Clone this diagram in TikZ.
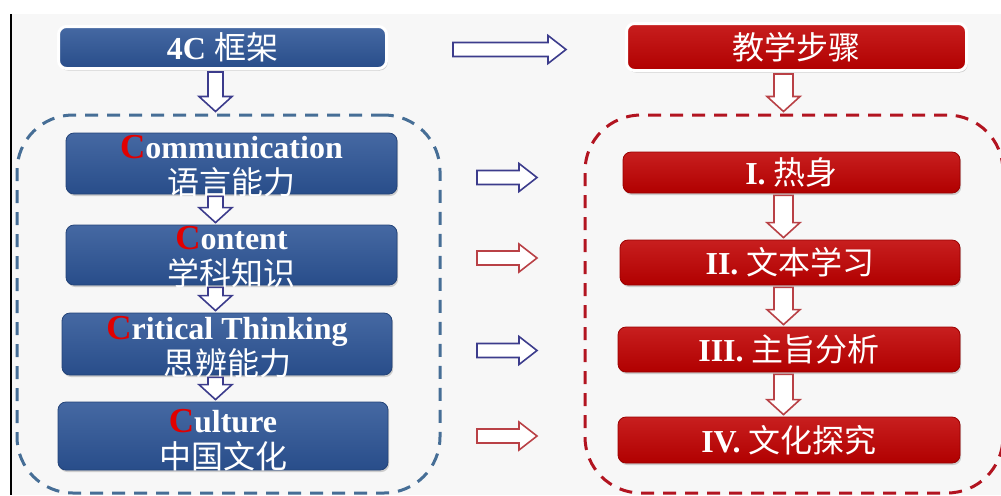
\documentclass[tikz,border=0pt]{standalone}
\usepackage{fontspec}
\setmainfont{Liberation Serif}
\newfontfamily\cjk{Noto Sans CJK SC}
\usetikzlibrary{calc,shadows}

\definecolor{boxblue}{RGB}{44,84,150}
\definecolor{boxred}{RGB}{192,0,0}
\definecolor{dashblue}{RGB}{70,110,150}
\definecolor{dashred}{RGB}{178,20,32}
\definecolor{arrblue}{RGB}{60,60,140}
\definecolor{arrred}{RGB}{185,65,70}
\definecolor{bggray}{RGB}{247,247,247}
\definecolor{letterred}{RGB}{225,0,0}

\tikzset{
  box/.style={rectangle, rounded corners=4pt, inner sep=0pt, align=center, text=white,
    font=\fontsize{16}{18}\selectfont,
    drop shadow={shadow xshift=0.6pt, shadow yshift=-1pt, opacity=0.35}},
  bluebox/.style={box, top color=boxblue!88!white, bottom color=boxblue!92!black, draw=boxblue!80!black},
  redbox/.style={box, top color=boxred!88!white, bottom color=boxred!92!black, draw=boxred!80!black},
  twoline/.style 2 args={text height=#1, text depth=#2},
  topbox/.style={draw=white, line width=1.5pt},
  group/.style={rectangle, rounded corners=28pt, line width=1.5pt, dash pattern=on 6.5pt off 4.5pt},
  harrow/.style={fill=white, line width=0.8pt, to path={
    ($(\tikztostart)+(0,-7)$) -- ($(\tikztotarget)+(-18,-7)$) -- ($(\tikztotarget)+(-18,-14)$)
    -- (\tikztotarget) -- ($(\tikztotarget)+(-18,14)$) -- ($(\tikztotarget)+(-18,7)$)
    -- ($(\tikztostart)+(0,7)$) -- cycle}},
  varrow/.style={fill=white, line width=0.8pt, to path={
    ($(\tikztostart)+(-#1,2)$) -- ($(\tikztotarget)+(-#1,-17)$) -- ($(\tikztotarget)+(-16.5,-17)$)
    -- ($(\tikztotarget)+(0,-2)$) -- ($(\tikztotarget)+(16.5,-17)$) -- ($(\tikztotarget)+(#1,-17)$)
    -- ($(\tikztostart)+(#1,2)$) -- cycle}}
}
\newcommand{\bigC}{{\fontsize{17.5}{18}\selectfont\textcolor{letterred}{C}}}

\begin{document}
\begin{tikzpicture}[x=0.5pt, y=-0.5pt]
        \useasboundingbox (0,0) rectangle (1001,495);
        % Background
        \fill[white] (0,0) rectangle (1001,495);
        \fill[bggray] (12,14) rectangle (1001,495);
        \draw[black, line width=0.75pt] (11,14) -- (11,495);

        % Groups
        \node (leftgroup) [group, draw=dashblue, minimum width=211.5pt, minimum height=189pt] at (228.5,304) {};
        \node (rightgroup) [group, draw=dashred, minimum width=209pt, minimum height=189pt] at (794,304) {};

        % Nodes
        \node (fw) [bluebox, topbox, minimum width=164pt, minimum height=21pt] at (222.5,47.5) {{\bfseries 4C} {\cjk 框架}};
        \node (steps) [redbox, topbox, minimum width=170pt, minimum height=23.5pt] at (796.5,47) {{\cjk 教学步骤}};

        \node (comm) [bluebox, twoline={30.5pt}{0pt}, minimum width=165.5pt] at (231.5,163.5)
          {{\bfseries\bigC ommunication}\\{\cjk 语言能力}};
        \node (cont) [bluebox, twoline={30pt}{0pt}, minimum width=165.5pt] at (231.5,255)
          {{\bfseries\bigC ontent}\\{\cjk 学科知识}};
        \node (crit) [bluebox, twoline={31pt}{0pt}, minimum width=165pt] at (227,344)
          {{\bfseries\bigC ritical Thinking}\\{\cjk 思辨能力}};
        \node (cult) [bluebox, twoline={33pt}{1pt}, minimum width=165pt] at (223,436)
          {{\bfseries\bigC ulture}\\{\cjk 中国文化}};

        \node (s1) [redbox, minimum width=168.5pt, minimum height=20.5pt] at (791.5,172.5) {{\bfseries I.} {\cjk 热身}};
        \node (s2) [redbox, minimum width=170pt, minimum height=22.5pt] at (790,262.5) {{\bfseries II.} {\cjk 文本学习}};
        \node (s3) [redbox, minimum width=171pt, minimum height=22.5pt] at (789,349.5) {{\bfseries III.} {\cjk 主旨分析}};
        \node (s4) [redbox, minimum width=171pt, minimum height=23pt] at (789,440) {{\bfseries IV.} {\cjk 文化探究}};

        % Arrows
        \coordinate (lx) at (215.5,0);
        \coordinate (rx) at (783.5,0);
        \draw[varrow=7.5, draw=arrblue] (fw.south -| lx) to (leftgroup.north -| lx);
        \draw[varrow=7.5, draw=arrblue] (comm.south -| lx) to (cont.north -| lx);
        \draw[varrow=7.5, draw=arrblue] (cont.south -| lx) to (crit.north -| lx);
        \draw[varrow=7.5, draw=arrblue] (crit.south -| lx) to (cult.north -| lx);
        \draw[varrow=9.5, draw=arrred] (steps.south -| rx) to (rightgroup.north -| rx);
        \draw[varrow=9.5, draw=arrred] (s1.south -| rx) to (s2.north -| rx);
        \draw[varrow=9.5, draw=arrred] (s2.south -| rx) to (s3.north -| rx);
        \draw[varrow=9.5, draw=arrred] (s3.south -| rx) to (s4.north -| rx);

        \coordinate (top a) at (453,49.5);
        \coordinate (top b) at (566,49.5);
        \draw[harrow, draw=arrblue] (top a) to (top b);
        \foreach \y/\c [count=\i] in {177.5/arrblue, 258/arrred, 350.5/arrblue, 436/arrred} {
          \coordinate (mid\i a) at (477,\y);
          \coordinate (mid\i b) at (537,\y);
          \draw[harrow, draw=\c] (mid\i a) to (mid\i b);
        }
\end{tikzpicture}
\end{document}
